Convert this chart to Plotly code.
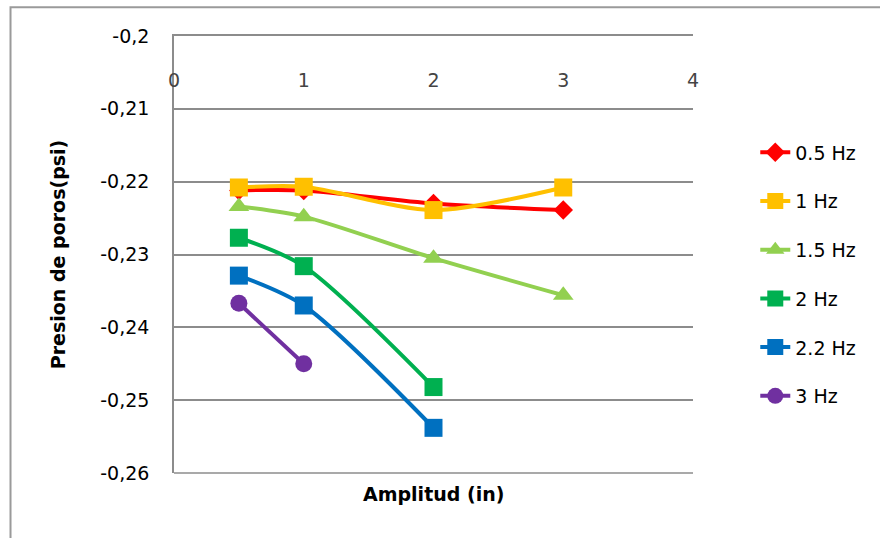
import plotly.graph_objects as go

# Amplitude (in) on the horizontal axis
amplitud = [0.5, 1, 2, 3]

# Pore pressure (psi) per loading frequency
p_05hz = [-0.2212, -0.2212, -0.2230, -0.2239]
p_1hz = [-0.2208, -0.2207, -0.2239, -0.2208]
p_15hz = [-0.2234, -0.2248, -0.2305, -0.2356]
p_2hz = [-0.2277, -0.2316, -0.2482]
p_22hz = [-0.2329, -0.2370, -0.2538]
p_3hz = [-0.2367, -0.2450]

series_names = ["0.5 Hz", "1 Hz", "1.5 Hz", "2 Hz", "2.2 Hz", "3 Hz"]

y_tickvals = [-0.2, -0.21, -0.22, -0.23, -0.24, -0.25, -0.26]
y_ticktext = ["-0,2", "-0,21", "-0,22", "-0,23", "-0,24", "-0,25", "-0,26"]
x_tickvals = [0, 1, 2, 3, 4]

FONT = "DejaVu Sans"
GRID = "#8c8c8c"

styles = [
    ("#FF0000", "diamond", 15),
    ("#FFC000", "square", 18),
    ("#92D050", "triangle-up", 18),
    ("#00B050", "square", 18),
    ("#0070C0", "square", 18),
    ("#7030A0", "circle", 17),
]
values = [p_05hz, p_1hz, p_15hz, p_2hz, p_22hz, p_3hz]

fig = go.Figure()
for i, (name, ys, (color, symbol, size)) in enumerate(zip(series_names, values, styles)):
    fig.add_trace(go.Scatter(
        x=amplitud[:len(ys)], y=ys, name=name, mode="lines+markers",
        line=dict(color=color, width=4, shape="spline", smoothing=0.8),
        marker=dict(color=color, symbol=symbol, size=size, line=dict(width=0)),
        legendgroup=f"g{i}",
    ))

fig.update_layout(
    width=880, height=538,
    margin=dict(l=174, r=187, t=36, b=65),
    paper_bgcolor="white", plot_bgcolor="white",
    font=dict(family=FONT, size=19, color="#000000"),
    showlegend=True,
    legend=dict(
        x=1.12, y=0.777, xanchor="left", yanchor="top",
        font=dict(family=FONT, size=19),
        tracegroupgap=21, bgcolor="rgba(0,0,0,0)",
    ),
    xaxis=dict(
        range=[0, 4], side="top", tickvals=x_tickvals,
        showgrid=False, zeroline=False,
        showline=True, linecolor=GRID, linewidth=1.5,
        ticks="", ticklabelposition="inside", ticklabelstandoff=39,
        ticklabeloverflow="allow",
        tickfont=dict(family=FONT, size=19),
    ),
    yaxis=dict(
        range=[-0.26, -0.2], tickvals=y_tickvals, ticktext=y_ticktext,
        showgrid=True, gridcolor=GRID, gridwidth=1.5, zeroline=False,
        showline=True, linecolor=GRID, linewidth=1.5,
        ticks="", ticklabelstandoff=19, ticklabeloverflow="allow",
        tickfont=dict(family=FONT, size=19),
        title=dict(text="<b>Presion de poros(psi)</b>", font=dict(family=FONT, size=19), standoff=30),
    ),
    annotations=[dict(
        text="<b>Amplitud (in)</b>", xref="paper", yref="paper",
        x=0.5, y=-0.048, xanchor="center", yanchor="middle", showarrow=False,
        font=dict(family=FONT, size=19),
    )],
    shapes=[
        # outer chart frame (top and left edges)
        dict(
            type="path", xref="paper", yref="paper",
            path="M -0.315 -0.2 L -0.315 1.0657 L 1.4 1.0657",
            line=dict(color="#9a9a9a", width=2),
        ),
        # bottom edge of the plot area
        dict(
            type="line", xref="paper", yref="paper",
            x0=0, x1=1, y0=0, y1=0,
            line=dict(color=GRID, width=1.5),
        ),
    ],
)

fig.write_html("out.html")
